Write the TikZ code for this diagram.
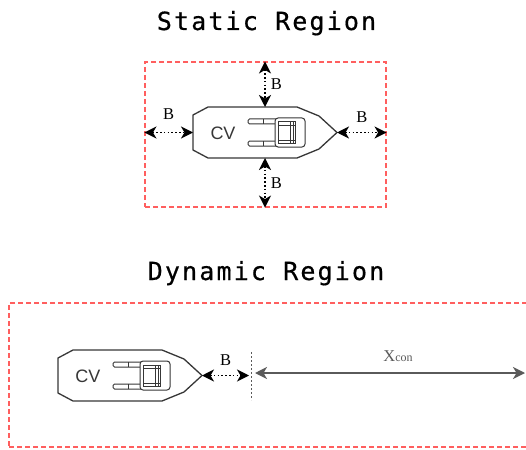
\documentclass[tikz,border=0pt]{standalone}
\usepackage{fontspec}
\setmainfont{Liberation Serif}
\newfontfamily\titlefont{DejaVu Sans Mono}[LetterSpace=8.6, FakeBold=0.6]
\newfontfamily\cvfont{Liberation Sans}
\usetikzlibrary{arrows.meta,calc}

\definecolor{hullgray}{RGB}{55,55,55}
\definecolor{spangray}{RGB}{90,90,90}
\definecolor{limitgray}{RGB}{90,90,90}

\tikzset{
  regionbox/.style={draw={rgb,255:red,255;green,95;blue,95}, line width=1.1pt,
    dash pattern=on 5pt off 3pt, inner sep=0pt},
  regiontitle/.style={font=\titlefont\fontsize{25}{28}\selectfont, anchor=base},
  barrow/.style={<->, line width=1.5pt, dash pattern=on 1.5pt off 2.3pt},
  spanarrow/.style={<->, draw=spangray, line width=1.8pt},
  limitline/.style={draw=limitgray, line width=0.8pt, dash pattern=on 2pt off 2pt},
  blabel/.style={font=\fontsize{16.5}{18}\selectfont, inner sep=0pt},
  xlabel/.style={font=\fontsize{16.5}{18}\selectfont, inner sep=0pt, text=spangray},
  hull/.style={draw=hullgray, line width=1.3pt, fill=white, line join=miter},
  cockpit/.style={draw=hullgray, line width=1pt},
  cvlabel/.style={font=\cvfont\fontsize{18}{20}\selectfont, text=hullgray, inner sep=0pt},
  cvship/.pic={
    % hull outline with chamfered stern and pointed bow
    \draw[hull] (0,8) -- (15,0) -- (104,0) -- (126,9) -- (144,25.5)
      -- (126,42) -- (104,51) -- (15,51) -- (0,43) -- cycle;
    % side bars and cockpit seat
    \draw[cockpit, rounded corners=1.5pt] (55,12) rectangle (84,17);
    \draw[cockpit] (70,12) -- (70,17);
    \draw[cockpit, rounded corners=1.5pt] (55,34) rectangle (84,39);
    \draw[cockpit] (70,34) -- (70,39);
    \draw[cockpit, rounded corners=3pt, fill=white] (82,11) rectangle (112,40);
    \draw[cockpit] (85,15) rectangle (102,36);
    \draw[cockpit, line width=0.6pt] (97,15) -- (97,36) (100,15) -- (100,36)
      (85,18) -- (102,18) (85,33) -- (102,33);
    \node[cvlabel] (-cv) at (30,26) {CV};
    \coordinate (-top) at (72,0);
    \coordinate (-bot) at (72,51);
    \coordinate (-left) at (0,25.5);
    \coordinate (-tip) at (144,25.5);
  }
}

\begin{document}
\begin{tikzpicture}[x=1pt, y=-1pt, >={Stealth[length=12pt,width=12pt,inset=3.5pt]}]
\clip (0,0) rectangle (526,449);

% static region
\node[regiontitle] (stitle) at (266.5,30) {Static Region};
\node[regionbox, minimum width=241pt, minimum height=145pt] (sreg) at (265.5,134.5) {};
\pic (s) at (193,107) {cvship};
\draw[barrow] (sreg.north -| s-top) -- (s-top)
  node[blabel, midway, right=5pt] (bn) {B};
\draw[barrow] (s-bot) -- (sreg.south -| s-bot)
  node[blabel, midway, right=5pt] (bs) {B};
\draw[barrow] (sreg.west |- s-left) -- (s-left)
  node[blabel, midway, above=12pt] (bw) {B};
\draw[barrow] (s-tip) -- (sreg.east |- s-tip)
  node[blabel, midway, above=9pt] (be) {B};

% dynamic region
\node[regiontitle] (dtitle) at (266,280) {Dynamic Region};
\node[regionbox, minimum width=531pt, minimum height=144pt] (dreg) at (274.5,375) {};
\pic (d) at (58,350) {cvship};
\coordinate (limtop) at (251,352);
\coordinate (limbot) at (251,400);
\coordinate (xend) at (525,373);
\draw[limitline] (limtop) -- (limbot);
\draw[barrow] (d-tip) -- ($(limtop |- d-tip)+(-2,0)$)
  node[blabel, midway, above=9pt] (bd) {B};
\draw[spanarrow] ($(limtop |- xend)+(4,0)$) -- (xend)
  node[xlabel, pos=0.53, above=10pt] (xc) {X{\fontsize{12}{12}\selectfont con}};
\end{tikzpicture}
\end{document}
